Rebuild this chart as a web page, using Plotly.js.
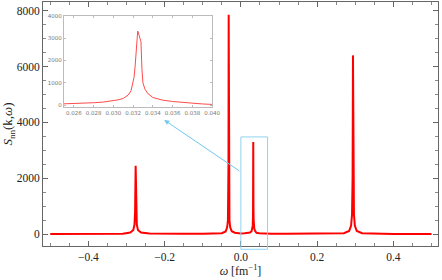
<!DOCTYPE html>
<html>
<head>
<meta charset="utf-8">
<script src="https://cdn.plot.ly/plotly-3.0.1.min.js"></script>
<style>html,body{margin:0;padding:0;background:#fff;}#chart{width:442px;height:280px;}</style>
</head>
<body>
<div id="chart"></div>
<script>
// Main spectrum S_nn(k, omega)
var omega = [-0.5, -0.45, -0.4, -0.35, -0.31, -0.29, -0.282, -0.279, -0.2775, -0.276, -0.2745, -0.273, -0.27, -0.262, -0.24, -0.2, -0.15, -0.1, -0.07, -0.05, -0.04, -0.036, -0.034, -0.033, -0.0325, -0.032, -0.0315, -0.031, -0.030, -0.028, -0.024, -0.016, -0.008, 0.0, 0.01, 0.018, 0.024, 0.028, 0.030, 0.031, 0.0318, 0.0322, 0.03247, 0.0328, 0.0330, 0.0335, 0.034, 0.035, 0.037, 0.041, 0.048, 0.06, 0.08, 0.12, 0.18, 0.24, 0.27, 0.284, 0.289, 0.2915, 0.293, 0.294, 0.295, 0.2965, 0.299, 0.304, 0.318, 0.35, 0.4, 0.45, 0.5];
var snn   = [5, 6, 8, 12, 20, 60, 150, 350, 800, 2450, 800, 350, 150, 60, 25, 15, 14, 18, 26, 40, 100, 250, 500, 1100, 2500, 7850, 2500, 1000, 500, 250, 110, 55, 40, 30, 35, 45, 60, 110, 190, 300, 650, 1700, 3300, 2850, 1000, 520, 345, 225, 120, 50, 35, 25, 20, 16, 17, 25, 40, 120, 300, 700, 2000, 6400, 2000, 700, 300, 120, 40, 18, 10, 7, 5];

// Inset zoom around the peak near omega = 0.0325
var insetOmega = [0.025, 0.026, 0.027, 0.028, 0.029, 0.030, 0.0305, 0.031, 0.0315, 0.0318, 0.032, 0.0321, 0.0322, 0.0323, 0.0324, 0.03247, 0.0326, 0.0328, 0.0329, 0.0330, 0.0332, 0.0335, 0.034, 0.035, 0.036, 0.037, 0.038, 0.039, 0.040];
var insetS     = [60, 70, 90, 110, 140, 190, 240, 300, 450, 650, 975, 1250, 1700, 2300, 3000, 3320, 3150, 2850, 1600, 1000, 720, 520, 345, 225, 165, 120, 80, 55, 35];

var xTickVals = [-0.4, -0.2, 0.0, 0.2, 0.4];
var xTickText = ["\u22120.4", "\u22120.2", "0.0", "0.2", "0.4"];
var yTickVals = [0, 2000, 4000, 6000, 8000];
var insetXTicks = [0.026, 0.028, 0.030, 0.032, 0.034, 0.036, 0.038, 0.040];
var insetXText  = ["0.026", "0.028", "0.030", "0.032", "0.034", "0.036", "0.038", "0.040"];
var insetYTicks = [0, 1000, 2000, 3000, 4000];
var insetYText  = ["0", "1000", "2000", "3000", "4000"];

var serif = "Liberation Serif, Times New Roman, serif";
var sans = "DejaVu Sans, sans-serif";

var traces = [
  {x: omega, y: snn, type: "scatter", mode: "lines", line: {color: "#ff0000", width: 2}, xaxis: "x", yaxis: "y", hoverinfo: "skip"},
  {x: insetOmega, y: insetS, type: "scatter", mode: "lines", line: {color: "#ff4a4a", width: 1}, xaxis: "x2", yaxis: "y2", hoverinfo: "skip"}
];

var layout = {
  width: 442, height: 280,
  margin: {l: 43, r: 4, t: 2, b: 34},
  paper_bgcolor: "#ffffff", plot_bgcolor: "#ffffff",
  showlegend: false,
  font: {family: serif, size: 11.5, color: "#222"},
  xaxis: {
    range: [-0.519, 0.517], showgrid: false, zeroline: false,
    showline: true, linecolor: "#666", linewidth: 1, mirror: "allticks",
    ticks: "inside", ticklen: 5, tickcolor: "#666", tickwidth: 1,
    tickmode: "array", tickvals: xTickVals, ticktext: xTickText,
    minor: {dtick: 0.05, tick0: 0, ticks: "inside", ticklen: 3, tickcolor: "#888", showgrid: false},
    tickfont: {family: serif, size: 11.5, color: "#222"},
    title: {text: "<i>\u03c9</i> [fm<sup>\u22121</sup>]", font: {family: serif, size: 12, color: "#222"}, standoff: 3}
  },
  yaxis: {
    range: [-420, 8310], showgrid: false, zeroline: false,
    showline: true, linecolor: "#666", linewidth: 1, mirror: "allticks",
    ticks: "inside", ticklen: 5, tickcolor: "#666", tickwidth: 1,
    tickmode: "array", tickvals: yTickVals,
    minor: {dtick: 500, tick0: 0, ticks: "inside", ticklen: 3, tickcolor: "#888", showgrid: false},
    tickfont: {family: serif, size: 11.5, color: "#222"},
    title: {text: "<i>S</i><sub>nn</sub>(k,<i>\u03c9</i>)", font: {family: serif, size: 13, color: "#222"}, standoff: 2}
  },
  xaxis2: {
    domain: [0.053, 0.428], anchor: "y2", range: [0.025, 0.040],
    showgrid: false, zeroline: false, showline: true, linecolor: "#bbb", linewidth: 1, mirror: "allticks",
    ticks: "inside", ticklen: 2.5, tickcolor: "#bbb",
    tickmode: "array", tickvals: insetXTicks, ticktext: insetXText,
    tickfont: {family: sans, size: 5.5, color: "#777"}
  },
  yaxis2: {
    domain: [0.568, 0.943], anchor: "x2", range: [-100, 4000],
    showgrid: false, zeroline: false, showline: true, linecolor: "#bbb", linewidth: 1, mirror: "allticks",
    ticks: "inside", ticklen: 2.5, tickcolor: "#bbb",
    tickmode: "array", tickvals: insetYTicks, ticktext: insetYText,
    tickfont: {family: sans, size: 5.5, color: "#777"}
  },
  shapes: [
    {type: "rect", xref: "x", yref: "paper", x0: 0.0, x1: 0.07, y0: -0.0135, y1: 0.447,
     line: {color: "#8fd4ef", width: 1}, fillcolor: "rgba(0,0,0,0)"}
  ],
  annotations: [
    {xref: "x", yref: "y", axref: "x", ayref: "y", x: -0.2012, y: 4090, ax: 0.0, ay: 2229,
     showarrow: true, arrowhead: 2, arrowsize: 1, arrowwidth: 1, arrowcolor: "#6fc8ee", text: ""}
  ]
};

Plotly.newPlot("chart", traces, layout, {staticPlot: true, displayModeBar: false});
</script>
</body>
</html>
